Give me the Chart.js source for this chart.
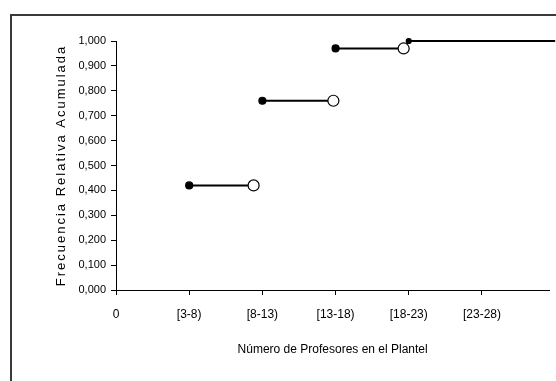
<!DOCTYPE html>
<html>
<head>
<meta charset="utf-8">
<script src="https://cdn.jsdelivr.net/npm/chart.js@4"></script>
<style>
    body { margin: 0; background: #fff; overflow: hidden; }
    #caixa { position: relative; width: 556px; height: 381px; }
    #moldura {
        position: absolute; left: 10px; top: 14px; width: 560px; height: 380px;
        border-left: 2px solid #3a3a3a; border-top: 2px solid #3a3a3a;
    }
    canvas { position: absolute; left: 0; top: 0; }
</style>
</head>
<body>
<div id="caixa">
    <div id="moldura"></div>
    <canvas id="graficoOjiva" width="556" height="381"></canvas>
</div>
<script>
// categorias do eixo x (posicao 0..5)
const categorias = ['0', '[3-8)', '[8-13)', '[13-18)', '[18-23)', '[23-28)'];
const ticksY = [0, 0.1, 0.2, 0.3, 0.4, 0.5, 0.6, 0.7, 0.8, 0.9, 1.0];

// cada degrau: inicio (ponto cheio) e fim (ponto vazio)
const inicioX = [1, 2, 3, 4];
const fimX = [1.88, 2.97, 3.93, 6];
const frecuencia = [0.42, 0.76, 0.97, 1.0];

const fonte = "'Liberation Sans', Arial, sans-serif";

// titulo do eixo y com letras espacadas
const tituloEixoY = {
    id: 'tituloEixoY',
    afterDraw(chart) {
        const { ctx, chartArea } = chart;
        ctx.save();
        ctx.translate(61, (chartArea.top + chartArea.bottom) / 2);
        ctx.rotate(-Math.PI / 2);
        ctx.font = '13px ' + fonte;
        ctx.letterSpacing = '2px';
        ctx.fillStyle = '#000';
        ctx.textAlign = 'center';
        ctx.textBaseline = 'middle';
        ctx.fillText('Frecuencia Relativa Acumulada', 0, 0);
        ctx.restore();
    }
};

const degraus = frecuencia.map((f, i) => {
    const ultimo = i === frecuencia.length - 1;
    return {
        data: [{ x: inicioX[i], y: f }, { x: fimX[i], y: f }],
        showLine: true,
        borderColor: '#000',
        borderWidth: 2,
        pointStyle: 'circle',
        pointRadius: ultimo ? [2.5, 0] : [3.5, 5.5],
        pointBorderWidth: 1.2,
        pointBorderColor: '#000',
        pointBackgroundColor: ['#000', '#fff'],
        clip: false
    };
});

new Chart(document.getElementById('graficoOjiva'), {
    type: 'scatter',
    data: { datasets: degraus },
    options: {
        responsive: false,
        animation: false,
        layout: { padding: { top: 41, right: 6, left: 0, bottom: 0 } },
        plugins: {
            legend: { display: false },
            tooltip: { enabled: false }
        },
        scales: {
            x: {
                type: 'linear',
                min: 0,
                max: 5.92,
                afterBuildTicks: (escala) => {
                    escala.ticks = categorias.map((c, i) => ({ value: i }));
                },
                afterFit: (escala) => { escala.height = 91; },
                ticks: {
                    autoSkip: false,
                    maxRotation: 0,
                    padding: 12,
                    color: '#000',
                    font: { family: fonte, size: 12 },
                    callback: (v) => categorias[v]
                },
                grid: {
                    drawOnChartArea: false,
                    tickLength: 5,
                    color: '#000'
                },
                border: { color: '#000', width: 1 },
                title: {
                    display: true,
                    text: 'Número de Profesores en el Plantel',
                    color: '#000',
                    font: { family: fonte, size: 12 },
                    padding: { bottom: 24 }
                }
            },
            y: {
                min: 0,
                max: 1,
                afterBuildTicks: (escala) => {
                    escala.ticks = ticksY.map(v => ({ value: v }));
                },
                afterFit: (escala) => { escala.width = 116; },
                ticks: {
                    padding: 5,
                    color: '#000',
                    font: { family: fonte, size: 11 },
                    callback: (v) => v.toFixed(3).replace('.', ',')
                },
                grid: {
                    drawOnChartArea: false,
                    tickLength: 5,
                    color: '#000'
                },
                border: { color: '#000', width: 1 }
            }
        }
    },
    plugins: [tituloEixoY]
});
</script>
</body>
</html>
